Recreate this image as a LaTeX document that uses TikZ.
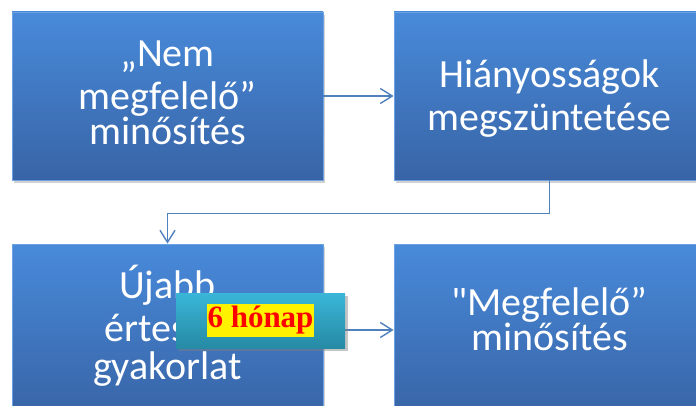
\documentclass[tikz,border=0pt]{standalone}
\usepackage{fontspec}
\setmainfont{Carlito}
\newfontfamily\plainq{Carlito}[Ligatures=TeXOff]
\newfontfamily\serifbold{Liberation Serif}
\usetikzlibrary{arrows.meta,shadows,positioning}
\definecolor{boxtop}{RGB}{72,138,218}
\definecolor{boxbot}{RGB}{56,100,166}
\definecolor{tealtop}{RGB}{58,182,216}
\definecolor{tealbot}{RGB}{38,138,164}
\definecolor{connc}{RGB}{79,129,189}
\tikzset{
  bluebox/.style={rectangle, minimum width=311pt, inner sep=0pt,
    top color=boxtop, bottom color=boxbot, draw=boxtop!80!white, line width=0.8pt,
    drop shadow={opacity=0.35, shadow xshift=2pt, shadow yshift=-3pt}},
  boxtext/.style={inner sep=0pt, text=white, align=center, font=\fontsize{40}{43}\selectfont},
  conn/.style={draw=connc, line width=1.4pt, -{Straight Barb[length=12pt,width=15pt,line width=1.4pt]}},
  tealbox/.style={rectangle, minimum width=169pt, minimum height=55pt, inner sep=0pt,
    top color=tealtop, bottom color=tealbot, draw=none,
    drop shadow={opacity=0.45, shadow xshift=3pt, shadow yshift=-3pt}},
  hilite/.style={rectangle, fill=yellow, inner xsep=1pt, inner ysep=2pt, text=red,
    font=\serifbold\bfseries\fontsize{31}{35}\selectfont}
}
\begin{document}
\begin{tikzpicture}[x=1pt,y=1pt]
\useasboundingbox (0,0) rectangle (696,-406);
\fill[white] (0,0) rectangle (696,-406);
\node[bluebox, minimum height=168pt] (b1) at (167.5,-96) {};
\node[bluebox, minimum height=168pt] (b2) at (549.5,-96) {};
\node[bluebox, minimum height=172pt] (b3) at (167.5,-330) {};
\node[bluebox, minimum height=172pt] (b4) at (549.5,-330) {};
\node[boxtext] (t1) at ([yshift=3pt]b1.center) {„Nem\\megfelelő”\\[-8pt]minősítés};
\node[boxtext] (t2) at ([yshift=-3pt]b2.center) {Hiányosságok\\megszüntetése};
\node[boxtext] (t3) at ([yshift=4.5pt]b3.center) {Újabb\\értesítő\\[-5pt]gyakorlat};
\node[boxtext] (t4) at ([yshift=10.5pt]b4.center) {{\plainq "}Megfelelő”\\[-8pt]minősítés};
\draw[conn] (b1.east) -- (b2.west);
\draw[conn] (b2.south) -- ++(0,-33) -| (b3.north);
\draw[conn] (b3.east) -- (b4.west);
\node[tealbox] (lbl) at (260.5,-320.5) {};
\node[hilite] (lbltext) at (lbl.center) {6 hónap};
\end{tikzpicture}
\end{document}
